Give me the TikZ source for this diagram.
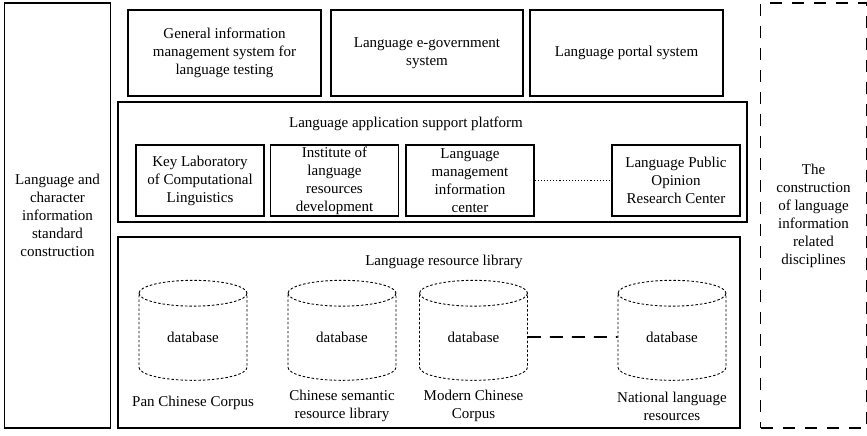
\documentclass[tikz,border=0pt]{standalone}
\usepackage{fontspec}
\setmainfont{Liberation Serif}
\usetikzlibrary{shapes.geometric}

\begin{document}
\begin{tikzpicture}[x=1pt, y=-1pt,
      every node/.style = {font=\fontsize{15}{18}\selectfont, align=center},
      block/.style = {shape=rectangle, draw, line width=1.3pt, inner sep=0pt},
      side/.style = {block, minimum width=106pt, minimum height=425pt},
      unit/.style = {block, minimum width=128pt, minimum height=71pt},
      db/.style = {cylinder, shape border rotate=90, draw, dash pattern=on 2.5pt off 2pt,
        line width=0.9pt, aspect=0.5, minimum width=108pt, minimum height=100pt, inner sep=0pt}]
      \useasboundingbox (0,0) rectangle (867,436);
      % side columns
      \node[side] (standard) at (57.5,215.5)
        {Language and\\character\\information\\standard\\construction};
      \node[side, dashed, dash pattern=on 12pt off 10pt, line width=1.7pt] (disc) at (813.5,215.5)
        {The\\construction\\of language\\information\\related\\disciplines};
      % application systems
      \node[block, minimum width=193pt, minimum height=86pt] (testing) at (224.5,53)
        {General information\\management system for\\language testing};
      \node[block, minimum width=192pt, minimum height=86pt] (egov) at (427,53)
        {Language e-government\\system};
      \node[block, minimum width=193pt, minimum height=86pt] (portal) at (626.5,53)
        {Language portal system};
      % support platform
      \node[block, minimum width=629pt, minimum height=120pt] (platform) at (432.5,162) {};
      \node (platformtitle) at (406,124) {Language application support platform};
      \node[unit] (keylab) at (200,180.5) {Key Laboratory\\of Computational\\Linguistics};
      \node[unit] (institute) at (334.5,180.5) {Institute of\\language\\resources\\development};
      \node[unit] (infocenter) at (470,180.5) {Language\\management\\information\\center};
      \node[unit] (opinion) at (676,180.5) {Language Public\\Opinion\\Research Center};
      \draw[dotted, line width=1.1pt] (infocenter) -- (opinion);
      % resource library
      \node[block, minimum width=622pt, minimum height=191pt] (library) at (429,332.5) {};
      \node (librarytitle) at (444,262) {Language resource library};
      \node[db] (pan) at (193,337) {database};
      \node[db] (semantic) at (342,337) {database};
      \node[db] (modern) at (473.5,337) {database};
      \node[db] (national) at (672,337) {database};
      \draw[dashed, dash pattern=on 13pt off 9pt, line width=1.6pt] (modern) -- (national);
      \node (panname) at (193,403) {Pan Chinese Corpus};
      \node (semname) at (342,406) {Chinese semantic\\resource library};
      \node (modname) at (473.5,406) {Modern Chinese\\Corpus};
      \node (natname) at (672,406) {National language\\resources};
  \end{tikzpicture}
\end{document}
